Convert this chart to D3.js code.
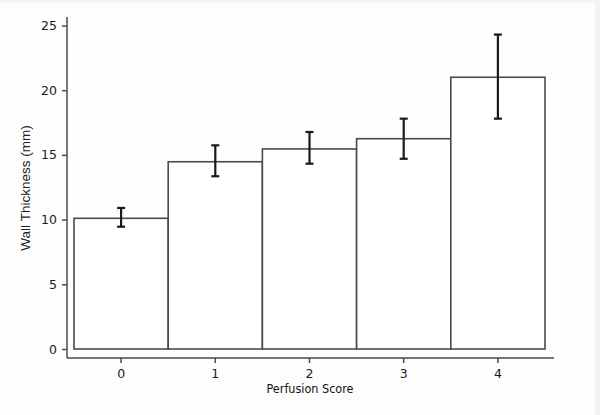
<!DOCTYPE html>
<html>
<head>
<meta charset="utf-8">
<script src="https://cdn.jsdelivr.net/npm/d3@7"></script>
<style>
  body { margin: 0; background: #f3f3f3; }
  text { fill: #222; }
</style>
</head>
<body>
<div id="chart"></div>
<script>
// data
var scores = ["0", "1", "2", "3", "4"];
var means = [10.1, 14.47, 15.46, 16.25, 21.0];
var errLow = [9.45, 13.35, 14.32, 14.7, 17.8];
var errHigh = [10.9, 15.74, 16.77, 17.8, 24.3];
var yTicks = [0, 5, 10, 15, 20, 25];

var width = 600,
    height = 415;

var svg = d3.select("#chart").append("svg")
    .attr("width", width)
    .attr("height", height);

// page background with faint frame
svg.append("rect")
    .attr("x", 0).attr("y", 3)
    .attr("width", 595).attr("height", height - 3)
    .attr("fill", "#fdfdfd");

var x = d3.scaleBand()
    .domain(scores)
    .range([74, 545])
    .padding(0);

var y = d3.scaleLinear()
    .domain([0, 25])
    .range([349, 25.5]);

var g = svg.append("g");

// bars
g.selectAll("rect.bar")
    .data(means)
    .enter().append("rect")
    .attr("class", "bar")
    .attr("x", function (d, i) { return x(scores[i]); })
    .attr("y", function (d) { return y(d); })
    .attr("width", x.bandwidth())
    .attr("height", function (d) { return y(0) - y(d); })
    .attr("fill", "#fff")
    .attr("stroke", "#4a4a4a")
    .attr("stroke-width", 1.6);

// error bars
var err = g.selectAll("g.err")
    .data(means)
    .enter().append("g")
    .attr("class", "err")
    .attr("stroke", "#1a1a1a")
    .attr("stroke-width", 2.2);

err.append("line")
    .attr("x1", function (d, i) { return x(scores[i]) + x.bandwidth() / 2; })
    .attr("x2", function (d, i) { return x(scores[i]) + x.bandwidth() / 2; })
    .attr("y1", function (d, i) { return y(errLow[i]); })
    .attr("y2", function (d, i) { return y(errHigh[i]); });

[errLow, errHigh].forEach(function (arr) {
    err.append("line")
        .attr("x1", function (d, i) { return x(scores[i]) + x.bandwidth() / 2 - 4; })
        .attr("x2", function (d, i) { return x(scores[i]) + x.bandwidth() / 2 + 4; })
        .attr("y1", function (d, i) { return y(arr[i]); })
        .attr("y2", function (d, i) { return y(arr[i]); });
});

// y axis
var yAxis = svg.append("g")
    .attr("transform", "translate(67,0)")
    .call(d3.axisLeft(y).tickValues(yTicks).tickSize(5).tickPadding(5));
yAxis.select(".domain").attr("d", "M0,17V358");

// x axis
var xAxis = svg.append("g")
    .attr("transform", "translate(0,358)")
    .call(d3.axisBottom(x).tickSize(5).tickPadding(6));
xAxis.select(".domain").attr("d", "M67,0H554");

svg.selectAll(".domain, .tick line")
    .attr("stroke", "#4a4a4a")
    .attr("stroke-width", 1.5);
svg.selectAll(".tick text")
    .style("font-family", "DejaVu Sans")
    .style("font-size", "12.5px")
    .style("fill", "#1a1a1a");

// axis titles
svg.append("text")
    .attr("transform", "translate(30,188) rotate(-90)")
    .attr("text-anchor", "middle")
    .style("font-family", "Liberation Sans, Arial")
    .style("font-size", "13.5px")
    .text("Wall Thickness (mm)");

svg.append("text")
    .attr("x", 310)
    .attr("y", 393)
    .attr("text-anchor", "middle")
    .style("font-family", "DejaVu Sans Condensed")
    .style("font-size", "12.5px")
    .style("fill", "#111")
    .text("Perfusion Score");
</script>
</body>
</html>
